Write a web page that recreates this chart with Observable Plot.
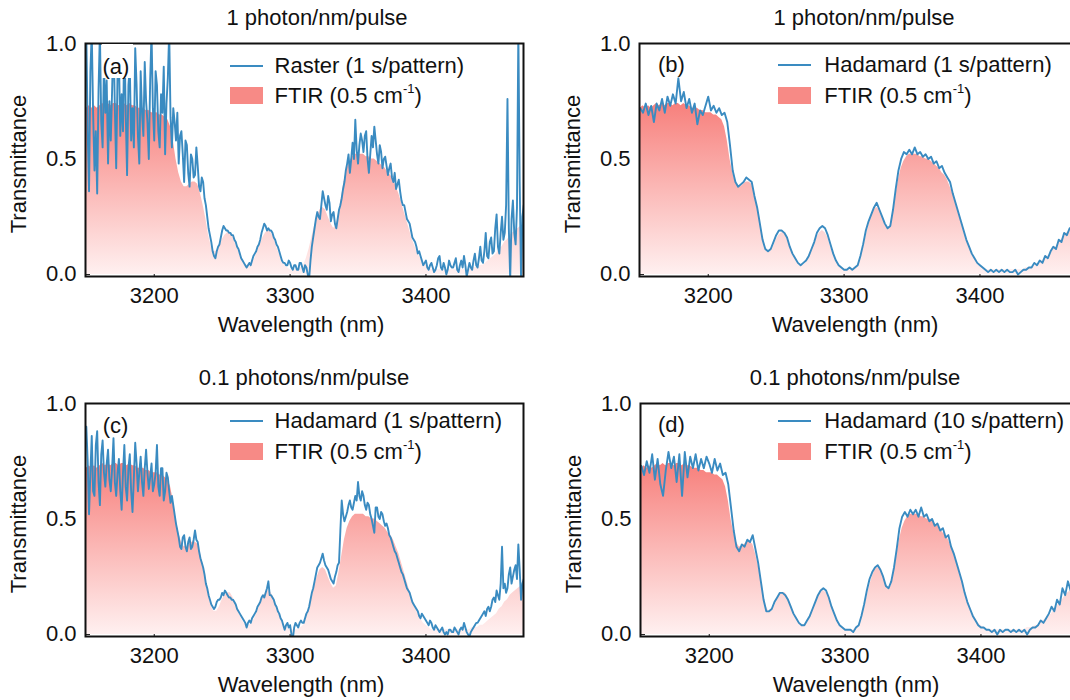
<!DOCTYPE html>
<html><head><meta charset="utf-8">
<script src="https://cdn.jsdelivr.net/npm/d3@7"></script>
<script src="https://cdn.jsdelivr.net/npm/@observablehq/plot@0.6"></script>
<style>
html,body{margin:0;padding:0;background:#fff;overflow:hidden;}
#fig{position:relative;width:1070px;height:700px;overflow:hidden;background:#fff;font-family:'Liberation Sans',Arial,Helvetica,sans-serif;color:#111;}
.abs{position:absolute;white-space:nowrap;line-height:1;font-size:22px;}
.c{transform:translate(-50%,-50%);}
.l{transform:translate(0,-50%);}
.rot{transform:translate(-50%,-50%) rotate(-90deg);}
.panel{position:absolute;}
.panel svg{max-width:none !important;}
sup{font-size:13px;vertical-align:baseline;position:relative;top:-10px;}
</style></head><body><div id="fig"></div>
<script>
// ---------------- DATA ----------------
const WAVE_START = 3150;   // nm, first sample of every series
const FTIR_STEP = 2;       // nm between FTIR samples
const X_TICKS = [3200, 3300, 3400];
const Y_TICKS = [0, 0.5, 1.0];

// FTIR reference transmittance (0.5 cm-1), every 2 nm
const FTIR_T = [
.72,.73,.72,.73,.72,.73,.74,.73,.74,.73,
.74,.74,.73,.74,.74,.73,.74,.73,.73,.72,
.72,.72,.71,.71,.70,.70,.70,.69,.69,.68,
.67,.64,.58,.50,.44,.40,.38,.38,.39,.40,
.40,.39,.35,.30,.24,.17,.12,.10,.10,.12,
.15,.17,.18,.18,.16,.13,.10,.07,.05,.04,
.04,.05,.07,.10,.13,.16,.18,.19,.18,.16,
.12,.09,.06,.04,.03,.02,.02,.02,.02,.03,
.04,.07,.11,.16,.21,.25,.28,.29,.28,.25,
.22,.20,.21,.27,.34,.41,.46,.49,.51,.52,
.52,.52,.52,.51,.51,.50,.50,.49,.48,.47,
.46,.44,.43,.41,.38,.35,.31,.27,.23,.19,
.15,.12,.09,.07,.05,.04,.03,.02,.02,.02,
.02,.02,.02,.02,.02,.02,.02,.02,.02,.02,
.02,.02,.03,.03,.03,.04,.04,.05,.06,.07,
.08,.09,.11,.12,.14,.15,.17,.18,.19,.20,
.21,.22];

// (a) Raster, 1 s/pattern, 1 photon/nm/pulse — every 1 nm
const RASTER_1S = [
1.05,.62,.36,.88,1.05,.70,.45,.62,.35,.80,
1.05,.66,.55,.92,.70,.84,.48,.75,.58,.80,
1.05,.72,.46,.88,.95,.60,.78,.62,1.05,.70,
.43,.82,.90,.58,.72,.55,.98,.82,.60,.48,
.88,.70,.60,.92,.75,.66,.50,.84,1.05,.72,
.58,.88,.82,.62,.55,.78,.70,.90,.52,.74,
.85,1.05,.68,.55,.72,.66,.58,.70,.48,.60,
.62,.52,.40,.58,.56,.44,.38,.52,.50,.42,
.43,.55,.47,.38,.36,.42,.40,.33,.30,.25,
.20,.17,.14,.10,.08,.07,.10,.12,.13,.16,
.19,.21,.20,.19,.19,.18,.18,.17,.17,.15,
.14,.12,.11,.09,.07,.06,.05,.04,.03,.04,
.05,.04,.06,.08,.09,.10,.12,.13,.15,.18,
.20,.22,.21,.19,.20,.19,.19,.18,.16,.15,
.13,.12,.10,.08,.06,.05,.05,.04,.04,.06,
.05,.03,.02,.04,.04,.02,.02,.05,.05,.03,
.01,.04,.03,.00,-.02,.06,.12,.16,.20,.24,
.27,.25,.24,.30,.36,.33,.30,.28,.34,.31,
.23,.26,.27,.22,.20,.24,.28,.30,.33,.37,
.40,.45,.48,.52,.44,.50,.57,.50,.67,.54,
.48,.56,.61,.58,.53,.60,.62,.50,.44,.52,
.60,.55,.64,.58,.52,.48,.56,.53,.46,.50,
.51,.47,.43,.46,.48,.42,.40,.44,.37,.39,
.41,.36,.32,.30,.30,.27,.24,.23,.22,.19,
.16,.15,.14,.12,.09,.10,.08,.06,.04,.05,
.06,.03,.02,.04,.05,.03,.01,.02,.04,.07,
.08,.03,.02,.05,.03,.00,.02,.06,.04,.03,
.03,.05,.07,.02,.01,.04,.06,.03,.08,.04,
-.01,.02,.05,.03,.02,.06,.09,.04,.03,.07,
.12,.06,.05,.10,.18,.08,.07,.14,.16,.09,
.10,.20,.26,.12,.09,.18,.25,.15,.18,.30,
.76,.20,-.02,.24,.32,.18,.13,.29,1.05,.40,
-.02,.25,.30];

// (b) Hadamard, 1 s/pattern, 1 photon/nm/pulse — every 2 nm
const HADAMARD_1S_1PH = [
.72,.70,.74,.69,.73,.66,.74,.71,.76,.70,
.77,.73,.78,.74,.85,.75,.79,.72,.76,.70,
.74,.65,.71,.69,.73,.77,.71,.73,.70,.72,
.69,.70,.66,.56,.45,.40,.38,.39,.40,.42,
.41,.40,.34,.29,.22,.15,.11,.10,.11,.14,
.17,.19,.19,.18,.16,.12,.09,.07,.05,.04,
.05,.06,.08,.11,.14,.18,.20,.21,.20,.17,
.13,.09,.06,.04,.03,.02,.02,.03,.02,.03,
.04,.08,.13,.19,.23,.26,.29,.31,.28,.25,
.22,.20,.21,.28,.37,.45,.50,.53,.52,.54,
.52,.55,.52,.53,.51,.52,.50,.51,.48,.49,
.46,.47,.44,.42,.40,.35,.31,.27,.23,.19,
.15,.12,.09,.07,.05,.04,.03,.02,.01,.02,
.01,.02,.01,.02,.01,.02,.01,.01,.02,.00,
.01,.02,.02,.03,.03,.05,.04,.06,.05,.08,
.07,.10,.12,.11,.15,.14,.18,.17,.20,.19,
.21,.22];

// (c) Hadamard, 1 s/pattern, 0.1 photons/nm/pulse — every 1 nm
const HADAMARD_1S_01PH = [
.90,.75,.52,.70,.86,.62,.60,.82,.88,.66,
.56,.78,.84,.70,.64,.74,.80,.67,.62,.72,
.85,.66,.60,.70,.76,.62,.54,.70,.82,.64,
.58,.72,.78,.62,.53,.68,.83,.74,.62,.70,
.77,.66,.60,.72,.80,.70,.63,.68,.74,.62,
.65,.70,.82,.64,.60,.72,.72,.58,.62,.70,
.68,.62,.57,.60,.56,.52,.48,.45,.42,.38,
.37,.42,.43,.38,.36,.40,.42,.37,.38,.41,
.45,.41,.40,.36,.33,.31,.29,.26,.22,.20,
.17,.15,.13,.12,.11,.12,.14,.15,.15,.16,
.18,.17,.19,.18,.17,.16,.16,.15,.15,.14,
.13,.11,.10,.09,.08,.07,.06,.05,.03,.05,
.06,.05,.07,.08,.09,.10,.12,.13,.14,.16,
.17,.16,.18,.20,.23,.17,.17,.16,.15,.13,
.12,.10,.09,.07,.06,.04,.02,.04,.05,.03,
.04,.00,-.02,.03,.05,.04,.03,.05,.06,.05,
.05,.07,.09,.10,.12,.15,.18,.20,.23,.26,
.29,.30,.31,.33,.35,.32,.30,.29,.28,.26,
.24,.23,.22,.25,.27,.30,.31,.45,.58,.52,
.49,.51,.53,.56,.58,.55,.54,.57,.60,.58,
.66,.60,.58,.62,.60,.56,.54,.57,.56,.52,
.50,.47,.44,.55,.55,.51,.50,.53,.52,.49,
.47,.48,.46,.43,.42,.40,.38,.36,.35,.33,
.31,.29,.27,.26,.24,.22,.20,.19,.18,.16,
.14,.13,.12,.11,.10,.08,.07,.09,.08,.07,
.06,.05,.04,.06,.05,.03,.02,.04,.03,.02,
.01,.02,.03,.01,.00,.01,.00,.02,.02,.01,
.01,.03,.02,.01,.00,.02,.03,.02,.05,.03,
.01,.00,-.01,.01,.02,.03,.04,.05,.05,.06,
.07,.08,.09,.10,.08,.11,.12,.10,.12,.15,
.16,.14,.19,.17,.15,.22,.38,.20,.22,.18,
.20,.26,.29,.22,.25,.28,.30,.24,.39,.28,
.15,.22,.24];

// (d) Hadamard, 10 s/pattern, 0.1 photons/nm/pulse — every 2 nm
const HADAMARD_10S_01PH = [
.73,.69,.75,.70,.78,.67,.76,.65,.60,.71,
.79,.72,.77,.66,.78,.60,.79,.68,.77,.72,
.78,.71,.76,.72,.77,.74,.70,.76,.71,.74,
.69,.70,.65,.55,.45,.38,.36,.39,.38,.41,
.40,.43,.37,.31,.23,.15,.10,.10,.11,.14,
.16,.18,.18,.17,.15,.12,.09,.07,.05,.04,
.04,.06,.08,.11,.14,.17,.19,.20,.19,.16,
.12,.09,.06,.04,.03,.02,.02,.02,.01,.03,
.04,.08,.13,.19,.24,.27,.29,.30,.28,.25,
.21,.20,.23,.29,.37,.46,.51,.53,.51,.54,
.52,.54,.51,.55,.51,.52,.49,.50,.47,.48,
.45,.46,.42,.43,.38,.35,.31,.27,.23,.18,
.14,.11,.08,.06,.04,.03,.03,.02,.02,.01,
.02,.00,.02,.01,.02,.02,.01,.02,.01,.02,
.01,.02,.00,.02,.03,.03,.04,.06,.05,.07,
.09,.12,.10,.15,.13,.20,.17,.23,.19,.25,
.22,.26];

const SERIES = [RASTER_1S, HADAMARD_1S_1PH, HADAMARD_1S_01PH, HADAMARD_10S_01PH];
const SERIES_STEP = [1, 2, 1, 2];   // nm between samples of each series
const TITLES = ["1 photon/nm/pulse", "1 photon/nm/pulse", "0.1 photons/nm/pulse", "0.1 photons/nm/pulse"];
const TAGS = ["(a)", "(b)", "(c)", "(d)"];
const LINE_NAMES = ["Raster (1 s/pattern)", "Hadamard (1 s/pattern)", "Hadamard (1 s/pattern)", "Hadamard (10 s/pattern)"];
const FILL_NAME = ["FTIR (0.5 cm", "-1", ")"];
const X_LABEL = "Wavelength (nm)";
const Y_LABEL = "Transmittance";

// ---------------- LAYOUT / STYLE ----------------
const BLUE = "#3a8bc1";
const SWATCH = "#f78a86";
const GRAD_TOP = "#f7807c";
const GRAD_BOTTOM = "#fff0f0";
const X_DOMAIN = [3149.4, 3471.8];
const Y_DOMAIN = [-0.009, 1.0];
const PW = 438, PH = 233, MT = 43, MR = 14;
const LAYOUT = [
  {left: 0,   top: 0,   ml: 85,  titleX: 317, lineX: 229.6, textX: 274.6, legY: 65.7, swY: 87.3, tagX: 102.5, tagY: 66.7, tagBox: true},
  {left: 535, top: 0,   ml: 104, titleX: 864, lineX: 778.3, textX: 824.3, legY: 65.3, swY: 87,   tagX: 658,   tagY: 65.3},
  {left: 0,   top: 360, ml: 85,  titleX: 304, lineX: 229.6, textX: 274.6, legY: 421,  swY: 443.3, tagX: 102.7, tagY: 426},
  {left: 535, top: 360, ml: 105, titleX: 855, lineX: 778.3, textX: 824.3, legY: 421,  swY: 443.3, tagX: 658,   tagY: 425}
];

const fig = document.getElementById("fig");
function addDiv(cls, x, y, html, extra) {
  const d = document.createElement("div");
  d.className = "abs " + cls;
  d.style.left = x + "px";
  d.style.top = y + "px";
  if (extra) Object.assign(d.style, extra);
  d.innerHTML = html;
  fig.appendChild(d);
  return d;
}

const ftirRows = FTIR_T.map((t, k) => ({w: WAVE_START + k * FTIR_STEP, t}));

LAYOUT.forEach((L, i) => {
  const lineRows = SERIES[i].map((v, k) => ({w: WAVE_START + k * SERIES_STEP[i], v}));
  const H = 360 - (L.top ? 20 : 0);
  const gid = "ftirGrad" + i;
  const svg = Plot.plot({
    width: L.ml + PW + MR,
    height: H,
    marginLeft: L.ml, marginRight: MR, marginTop: MT, marginBottom: H - MT - PH,
    style: {fontFamily: "'Liberation Sans', Arial, Helvetica, sans-serif", fontSize: "22px", color: "#111", background: "transparent", maxWidth: "none", overflow: "visible"},
    x: {domain: X_DOMAIN, ticks: X_TICKS, tickFormat: "d", tickSize: -6, tickPadding: 17, label: null},
    y: {domain: Y_DOMAIN, ticks: Y_TICKS, tickFormat: ".1f", tickSize: -5, tickPadding: 14, label: null},
    marks: [
      Plot.areaY(ftirRows, {x: "w", y: "t", fill: `url(#${gid})`, clip: true}),
      Plot.lineY(lineRows, {x: "w", y: "v", stroke: BLUE, strokeWidth: 1.9, clip: true}),
      Plot.frame({stroke: "#111", strokeWidth: 2})
    ]
  });
  const defs = d3.select(svg).insert("defs", ":first-child");
  const g = defs.append("linearGradient").attr("id", gid).attr("x1", 0).attr("x2", 0).attr("y1", 0).attr("y2", 1);
  g.append("stop").attr("offset", "0%").attr("stop-color", GRAD_TOP);
  g.append("stop").attr("offset", "100%").attr("stop-color", GRAD_BOTTOM);

  const holder = document.createElement("div");
  holder.className = "panel";
  holder.style.left = L.left + "px";
  holder.style.top = L.top + "px";
  holder.style.width = (L.ml + PW + MR) + "px";
  holder.appendChild(svg);
  fig.appendChild(holder);

  const frameLeft = L.left + L.ml;
  addDiv("c", L.titleX, L.top + 18.3, TITLES[i]);
  addDiv("rot", frameLeft - 66, L.top + 164, Y_LABEL);
  addDiv("c", frameLeft + 216, L.top + 325, X_LABEL);
  if (L.tagBox) addDiv("", L.tagX - 1, L.top + 44, "", {width: "31px", height: "34px", background: "#fff"});
  addDiv("l", L.tagX, L.tagY, TAGS[i]);
  addDiv("", L.lineX, L.legY - 1, "", {width: "33px", height: "2px", background: BLUE});
  addDiv("l", L.textX, L.legY, LINE_NAMES[i]);
  addDiv("", L.lineX, L.swY, "", {width: "33px", height: "17px", background: SWATCH});
  addDiv("l", L.textX, L.swY + 8.5, `${FILL_NAME[0]}<sup>${FILL_NAME[1]}</sup>${FILL_NAME[2]}`);
});
</script></body></html>
